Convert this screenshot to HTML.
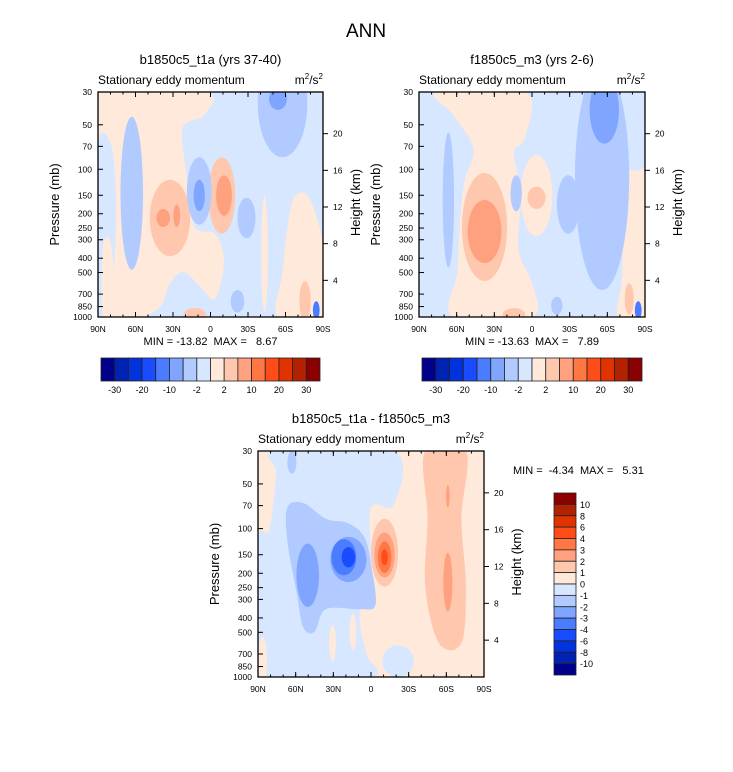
<!DOCTYPE html>
<html><head><meta charset="utf-8">
<style>
body{margin:0;background:#fff;}
svg{display:block;font-family:"Liberation Sans",sans-serif;}
text{white-space:pre;}
</style></head>
<body>
<svg id="fig" width="733" height="772" viewBox="0 0 733 772">
<text x="366" y="37" font-size="19" text-anchor="middle">ANN</text>
</svg>
<script>
// ---- data ----
const palette = ['#00008b','#0023b3','#0033dd','#1a4cff','#4a7cff','#7fa5ff','#b1caff','#d6e7ff','#ffe9da','#ffc8ae','#ffa07e','#ff7844','#ff4d1a','#e03300','#b32200','#8b0000'];
const pressureTicks = [30,50,70,100,150,200,250,300,400,500,700,850,1000];
const latTicks = ['90N','60N','30N','0','30S','60S','90S'];
const heightTicks = [4,8,12,16,20];
const topBarLabels = ['-30','-20','-10','-2','2','10','20','30'];
const diffBarLabels = ['10','8','6','4','3','2','1','0','-1','-2','-3','-4','-6','-8','-10'];
// features: polygons [level, points(xfrac,yfrac)] and ellipses [level, cx, cy, rx, ry]
const panel1Base = 7;
const panel1Polys = [
 [8, [[0,0],[0.475,0],[0.475,0.1],[0.38,0.15],[0.38,0.27],[0.4,0.4],[0.43,0.6],[0.52,0.63],[0.56,0.75],[0.52,0.92],[0.45,0.86],[0.38,0.8],[0.32,0.85],[0.28,0.95],[0.2,1],[0.1,1],[0,1]]],
 [7, [[0,0.25],[0.06,0.24],[0.08,0.5],[0.07,0.8],[0.05,0.98],[0,1]]],
 [8, [[0.02,0.7],[0.05,0.65],[0.07,0.8],[0.06,1],[0.02,1]]],
 [8, [[0.86,0.5],[0.92,0.45],[0.97,0.55],[1,0.7],[1,1],[0.8,1],[0.82,0.8]]]
];
const panel1Ells = [
 [6,0.15,0.45,0.05,0.34],[9,0.32,0.56,0.09,0.17],[10,0.29,0.56,0.03,0.04],[10,0.35,0.55,0.015,0.05],
 [9,0.55,0.46,0.06,0.17],[10,0.56,0.46,0.035,0.09],[6,0.45,0.44,0.055,0.15],[5,0.45,0.46,0.025,0.07],
 [6,0.66,0.56,0.04,0.09],[6,0.82,0.05,0.11,0.24],[5,0.8,0.03,0.04,0.05],[6,0.62,0.93,0.03,0.05],
 [8,0.74,0.72,0.015,0.26],[9,0.92,0.93,0.025,0.09],[4,0.97,0.97,0.015,0.04],[9,0.43,0.99,0.05,0.03]
];
const panel2Base = 7;
const panel2Polys = [
 [8, [[0.08,0],[0.47,0],[0.47,0.2],[0.42,0.27],[0.45,0.45],[0.44,0.7],[0.5,0.85],[0.5,1],[0.15,1],[0.17,0.8],[0.18,0.6],[0.2,0.4],[0.24,0.25],[0.15,0.1]]],
 [8, [[0.9,0.4],[0.97,0.35],[1,0.4],[1,1],[0.88,1],[0.9,0.8]]]
];
const panel2Ells = [
 [8,0.52,0.46,0.07,0.18],[9,0.29,0.6,0.1,0.24],[10,0.29,0.62,0.075,0.14],[9,0.52,0.47,0.04,0.05],
 [6,0.81,0.38,0.12,0.5],[5,0.82,0.08,0.065,0.15],[6,0.13,0.48,0.025,0.3],[6,0.43,0.45,0.025,0.08],
 [6,0.66,0.5,0.05,0.13],[6,0.61,0.95,0.025,0.04],[9,0.93,0.92,0.02,0.07],[4,0.97,0.97,0.015,0.04],
 [9,0.42,0.99,0.05,0.03]
];
const panel3Base = 8;
const panel3Polys = [
 [7, [[0.08,0],[0.6,0],[0.6,0.24],[0.5,0.25],[0.5,0.5],[0.47,0.62],[0.45,0.75],[0.48,0.9],[0.5,1],[0,1],[0,0.4],[0.05,0.35],[0.08,0.1]]],
 [6, [[0.13,0.25],[0.2,0.23],[0.3,0.3],[0.4,0.32],[0.47,0.38],[0.5,0.5],[0.52,0.68],[0.45,0.7],[0.3,0.7],[0.25,0.8],[0.2,0.78],[0.17,0.62],[0.13,0.4]]],
 [9, [[0.74,0],[0.92,0],[0.9,0.3],[0.92,0.6],[0.9,0.85],[0.8,0.85],[0.74,0.6],[0.75,0.3]]]
];
const panel3Ells = [
 [7,0.62,0.93,0.07,0.07],[8,0.42,0.8,0.015,0.08],[8,0.33,0.85,0.015,0.08],[8,0.02,0.92,0.02,0.1],
 [6,0.15,0.05,0.02,0.05],[5,0.22,0.55,0.05,0.14],[5,0.4,0.48,0.08,0.1],
 [4,0.38,0.47,0.055,0.08],[3,0.4,0.47,0.03,0.045],
 [9,0.56,0.45,0.06,0.15],[10,0.56,0.46,0.045,0.1],[11,0.56,0.47,0.03,0.07],[12,0.56,0.47,0.015,0.035],
 [10,0.84,0.58,0.02,0.13],[10,0.84,0.2,0.008,0.05]
];
// ---- drawing ----
const NS='http://www.w3.org/2000/svg';
const svg=document.getElementById('fig');
function el(tag,attrs,parent){const e=document.createElementNS(NS,tag);for(const k in attrs)e.setAttribute(k,attrs[k]);(parent||svg).appendChild(e);return e;}
function txt(x,y,s,size,anchor,parent){const t=el('text',{x:x,y:y,'font-size':size,'text-anchor':anchor||'middle'},parent);t.textContent=s;return t;}
function smooth(pts,sx,sy){let d='';const n=pts.length;const P=pts.map(p=>[sx(p[0]),sy(p[1])]);
 for(let i=0;i<n;i++){const p0=P[(i-1+n)%n],p1=P[i],p2=P[(i+1)%n],p3=P[(i+2)%n];
  if(i===0)d+='M'+p1[0]+','+p1[1];
  const c1=[p1[0]+(p2[0]-p0[0])/6,p1[1]+(p2[1]-p0[1])/6],c2=[p2[0]-(p3[0]-p1[0])/6,p2[1]-(p3[1]-p1[1])/6];
  d+='C'+c1+' '+c2+' '+p2;}
 return d+'Z';}
function panel(name,x0,y0,w,h,title,base,polys,ells,minmax,idx){
 const g=el('g',{});
 
 
 const sx=f=>x0+f*w, sy=f=>y0+f*h;
 const py=p=>y0+Math.log(p/30)/Math.log(1000/30)*h;
 el('clipPath',{id:'clip'+idx},g).appendChild(el('rect',{x:x0,y:y0,width:w,height:h}));
 const field=el('g',{'clip-path':'url(#clip'+idx+')'},g);
 
 
 el('rect',{x:x0,y:y0,width:w,height:h,fill:palette[base]},field);
 polys.forEach(p=>{const e=el('path',{d:smooth(p[1],sx,sy),fill:palette[p[0]]},field);
  
  });
 ells.forEach(e=>{const c=el('ellipse',{cx:sx(e[1]),cy:sy(e[2]),rx:e[3]*w,ry:e[4]*h,fill:palette[e[0]]},field);
  
  });
 el('rect',{x:x0,y:y0,width:w,height:h,fill:'none',stroke:'#000','stroke-width':1.3},g);
 const t1=txt(x0+w/2,y0-28,title,13,'middle',g);
 
 
 const t2=txt(x0,y0-8,'Stationary eddy momentum',12,'start',g);
 
 
 const u=el('text',{x:x0+w,y:y0-8,'font-size':12,'text-anchor':'end'},g);
 u.innerHTML='m<tspan dy="-5" font-size="8">2</tspan><tspan dy="5">/s</tspan><tspan dy="-5" font-size="8">2</tspan>';
 
 
 pressureTicks.forEach(p=>{const y=py(p);el('line',{x1:x0,x2:x0+5,y1:y,y2:y,stroke:'#000'},g);
  const t=txt(x0-6,y+3,String(p),8.5,'end',g);
  
  });
 const yt=txt(0,0,'Pressure (mb)',13,'middle',g);yt.setAttribute('transform','translate('+(x0-39)+','+(y0+h/2)+') rotate(-90)');
 
 
 latTicks.forEach((l,i)=>{const x=x0+i*w/6;el('line',{x1:x,x2:x,y1:y0+h,y2:y0+h-5,stroke:'#000'},g);el('line',{x1:x,x2:x,y1:y0,y2:y0+5,stroke:'#000'},g);
  const t=txt(x,y0+h+15,l,8.5,'middle',g);
  
  });
 for(let i=0;i<=18;i++){const x=x0+i*w/18;el('line',{x1:x,x2:x,y1:y0+h,y2:y0+h-2.5,stroke:'#000'},g);el('line',{x1:x,x2:x,y1:y0,y2:y0+2.5,stroke:'#000'},g);}
 heightTicks.forEach(z=>{const y=py(1000*Math.exp(-z/7));el('line',{x1:x0+w,x2:x0+w+5,y1:y,y2:y,stroke:'#000'},g);
  const t=txt(x0+w+10,y+3,String(z),8.5,'start',g);
  
  });
 const ht=txt(0,0,'Height (km)',13,'middle',g);ht.setAttribute('transform','translate('+(x0+w+37)+','+(y0+h/2-2)+') rotate(-90)');
 
 
 if(minmax){const m=txt(x0+w/2,y0+h+28,minmax,11,'middle',g);
  
  }
}
function hbar(name,x0,y0,w,h){
 const g=el('g',{});
 
 
 const bw=w/16;
 palette.forEach((c,i)=>{el('rect',{x:x0+i*bw,y:y0,width:bw,height:h,fill:c,stroke:'#222','stroke-width':0.8},g);});
 topBarLabels.forEach((l,i)=>{const t=txt(x0+(2*i+1)*bw,y0+h+12,l,9,'middle',g);
  
  });
}
panel('left-panel',98,92,225,225,'b1850c5_t1a (yrs 37-40)',panel1Base,panel1Polys,panel1Ells,'MIN = -13.82  MAX =   8.67',1);
panel('right-panel',419,92,226,225,'f1850c5_m3 (yrs 2-6)',panel2Base,panel2Polys,panel2Ells,'MIN = -13.63  MAX =   7.89',2);
panel('diff-panel',258,451,226,226,'b1850c5_t1a - f1850c5_m3',panel3Base,panel3Polys,panel3Ells,null,3);
hbar('left-colorbar',101,358,219,23);
hbar('right-colorbar',422,358,220,23);
(function(){const g=el('g',{});
 
 
 const x0=554,y0=493,w=22,h=182,bh=h/16;
 palette.slice().reverse().forEach((c,i)=>{el('rect',{x:x0,y:y0+i*bh,width:w,height:bh,fill:c,stroke:'#222','stroke-width':0.8},g);});
 diffBarLabels.forEach((l,i)=>{const t=txt(x0+w+4,y0+(i+1)*bh+3.5,l,9,'start',g);
  
  });
 const m=txt(513,474,'MIN =  -4.34  MAX =   5.31',11,'start',g);
 
 
})();
</script>
</body></html>
